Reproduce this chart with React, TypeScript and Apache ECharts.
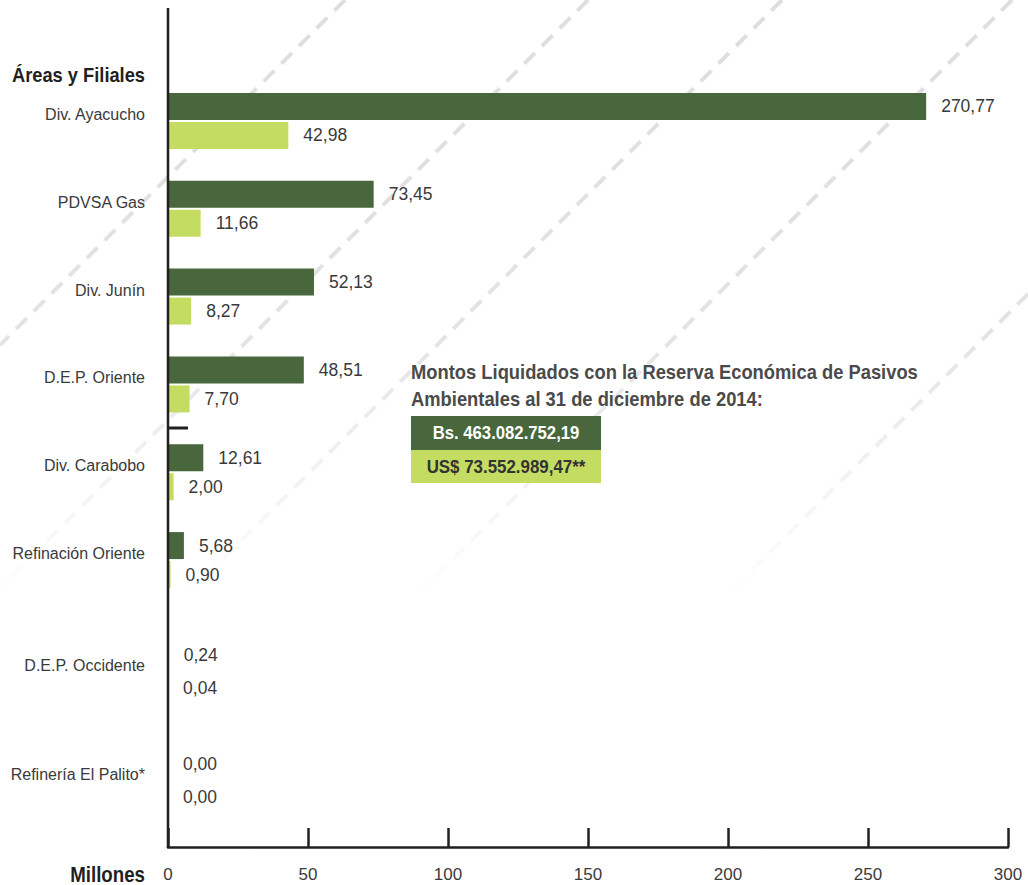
import React, { useEffect, useRef } from "react";
import * as echarts from "echarts";

const categories = [
  "Div. Ayacucho",
  "PDVSA Gas",
  "Div. Junín",
  "D.E.P. Oriente",
  "Div. Carabobo",
  "Refinación Oriente",
  "D.E.P. Occidente",
  "Refinería El Palito*",
];
const bsValues = [270.77, 73.45, 52.13, 48.51, 12.61, 5.68, 0.24, 0.0];
const usdValues = [42.98, 11.66, 8.27, 7.7, 2.0, 0.9, 0.04, 0.0];
const xTicks = { min: 0, max: 300, interval: 50 };
const titleLines = [
  "Montos Liquidados con la Reserva Económica de Pasivos",
  "Ambientales al 31 de diciembre de 2014:",
];
const totalBs = "Bs. 463.082.752,19";
const totalUsd = "US$ 73.552.989,47**";
const yAxisTitle = "Áreas y Filiales";
const xAxisTitle = "Millones";

// first group of six, second group of two (wider spacing in the original)
const SPLIT = 6;

const FONT = '"Liberation Sans", Arial, Helvetica, sans-serif';
const DARK = "#48673C";
const LIGHT = "#C4DC62";
const TEXT = "#3a3a3a";
const AXIS = "#231f20";

const fmt = (v: number) => v.toFixed(2).replace(".", ",");

export default function App() {
  const ref = useRef<HTMLDivElement>(null);
  useEffect(() => {
    document.body.style.margin = "0";
    const chart = echarts.init(ref.current!, null, { renderer: "svg" });

    const fade = new echarts.graphic.LinearGradient(
      0, 0, 0, 600,
      [
        { offset: 0, color: "rgba(222,222,222,1)" },
        { offset: 0.55, color: "rgba(222,222,222,0.85)" },
        { offset: 1, color: "rgba(222,222,222,0)" },
      ],
      true
    );
    const diag = [345, 588, 782, 1012, 1322];
    const dashLines = diag.map((c) => {
      const x1 = Math.min(c, 1028);
      const y1 = c - x1;
      let y2 = 600;
      let x2 = c - y2;
      if (x2 < 0) {
        x2 = 0;
        y2 = c;
      }
      return {
        type: "line",
        z: -10,
        silent: true,
        shape: { x1, y1, x2, y2 },
        style: { stroke: fade, lineWidth: 4, lineDash: [15, 10] },
      };
    });

    const labelCommon = {
      show: true,
      position: "right",
      distance: 15,
      fontSize: 17.5,
      color: TEXT,
      fontFamily: FONT,
      formatter: (p: any) => fmt(p.value),
    };

    const yAxisCommon = {
      type: "category",
      inverse: true,
      axisLine: { show: false },
      axisTick: { show: false },
      axisLabel: {
        fontSize: 16,
        color: TEXT,
        fontFamily: FONT,
        margin: 23,
        verticalAlign: "bottom",
        lineHeight: 13,
      },
    };

    const boldText = (
      text: string,
      x: number,
      y: number,
      size: number,
      sx: number,
      align: string,
      fill: string,
      z = 5
    ) => ({
      type: "text",
      x,
      y,
      z,
      scaleX: sx,
      style: {
        text,
        fill,
        fontFamily: FONT,
        fontWeight: "bold",
        fontSize: size,
        align,
        verticalAlign: "middle",
      },
    });

    const option: any = {
      animation: false,
      grid: [
        { left: 168, right: 20, top: 77, height: 527, outerBoundsMode: "none" },
        { left: 168, right: 20, top: 617, height: 218, outerBoundsMode: "none" },
      ],
      xAxis: [
        {
          type: "value",
          gridIndex: 0,
          ...xTicks,
          show: false,
          splitLine: { show: false },
        },
        {
          type: "value",
          gridIndex: 1,
          ...xTicks,
          offset: 12,
          axisLine: { show: true, lineStyle: { color: AXIS, width: 2.5 } },
          axisTick: { show: true, inside: true, length: 19, lineStyle: { color: AXIS, width: 2.5 } },
          axisLabel: { fontSize: 17, color: TEXT, fontFamily: FONT, margin: 19 },
          splitLine: { show: false },
        },
      ],
      yAxis: [
        { ...yAxisCommon, gridIndex: 0, data: categories.slice(0, SPLIT) },
        { ...yAxisCommon, gridIndex: 1, data: categories.slice(SPLIT) },
      ],
      series: [
        {
          name: "Bs.",
          type: "bar",
          xAxisIndex: 0,
          yAxisIndex: 0,
          data: bsValues.slice(0, SPLIT),
          barWidth: 27,
          barGap: "7.4%",
          itemStyle: { color: DARK },
          label: labelCommon,
        },
        {
          name: "US$",
          type: "bar",
          xAxisIndex: 0,
          yAxisIndex: 0,
          data: usdValues.slice(0, SPLIT),
          barWidth: 27,
          barGap: "7.4%",
          itemStyle: { color: LIGHT },
          label: labelCommon,
        },
        {
          name: "Bs.",
          type: "bar",
          xAxisIndex: 1,
          yAxisIndex: 1,
          data: bsValues.slice(SPLIT),
          barWidth: 27,
          barGap: "22%",
          itemStyle: { color: DARK },
          label: labelCommon,
        },
        {
          name: "US$",
          type: "bar",
          xAxisIndex: 1,
          yAxisIndex: 1,
          data: usdValues.slice(SPLIT),
          barWidth: 27,
          barGap: "22%",
          itemStyle: { color: LIGHT },
          label: labelCommon,
        },
      ],
      graphic: [
        ...dashLines,
        {
          type: "line",
          z: 50,
          shape: { x1: 168, y1: 8, x2: 168, y2: 848 },
          style: { stroke: AXIS, lineWidth: 2.5 },
        },
        {
          type: "line",
          z: 50,
          shape: { x1: 168, y1: 428, x2: 188, y2: 428 },
          style: { stroke: AXIS, lineWidth: 3 },
        },
        boldText(yAxisTitle, 145, 75, 21, 0.87, "right", "#231f20"),
        boldText(xAxisTitle, 145, 874, 22, 0.85, "right", "#231f20"),
        ...titleLines.map((t, i) =>
          boldText(t, 411, 372 + i * 27, 20, 0.918, "left", "#4a4a4a")
        ),
        {
          type: "rect",
          shape: { x: 411, y: 416, width: 190, height: 34 },
          style: { fill: DARK },
        },
        {
          type: "rect",
          shape: { x: 411, y: 450, width: 190, height: 33 },
          style: { fill: LIGHT },
        },
        boldText(totalBs, 506, 433, 19, 0.88, "center", "#ffffff", 10),
        boldText(totalUsd, 506, 467, 19, 0.89, "center", "#333333", 10),
      ],
    };
    chart.setOption(option);
    return () => chart.dispose();
  }, []);
  return <div ref={ref} style={{ width: 1028, height: 885 }} />;
}
